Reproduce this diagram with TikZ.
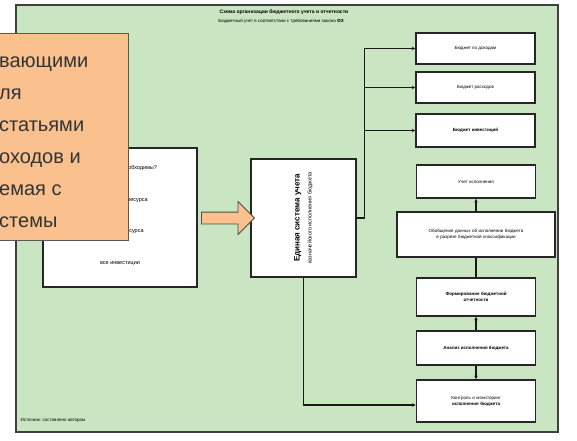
\documentclass[tikz,border=0pt]{standalone}
\usepackage{fontspec}
\setmainfont{Liberation Sans}
\usetikzlibrary{shapes.arrows,arrows.meta}

\definecolor{fieldgreen}{RGB}{201,229,193}
\definecolor{peach}{RGB}{250,193,143}

\begin{document}
\begin{tikzpicture}[x=1pt,y=-1pt,
		box/.style={draw=black!85, line width=1.6pt, fill=white, inner sep=1pt, align=center,
			font=\fontsize{4.5}{6}\selectfont, minimum width=119pt},
		tiny/.style={font=\fontsize{4.5}{6}\selectfont},
		link/.style={draw=black!90, line width=1.3pt, -{Stealth[length=3.5pt,width=3.5pt]}},
		plain/.style={draw=black!90, line width=1.3pt}]
	\clip (0,0) rectangle (577,440);
	\fill[white] (0,0) rectangle (577,440);
	\filldraw[fill=fieldgreen, draw=black!75, line width=1.5pt] (16,5) rectangle (558,432);
	\node[tiny, font=\bfseries\fontsize{5}{6}\selectfont] (title) at (284,12) {Схема организации бюджетного учета и отчетности};
	\node[tiny] (subtitle) at (281,21) {Бюджетный учет в соответствии с требованиями закона \textbf{ФЗ}};
	\node[tiny, anchor=west] (source) at (17,420) {Источник: составлено автором};
	% budget boxes
	\node[box, minimum height=31pt] (budA) at (475.5,48.5) {Бюджет по доходам};
	\node[box, minimum height=31pt] (budB) at (475.5,87.5) {Бюджет расходов};
	\node[box, minimum height=33pt] (budC) at (475.5,130.5) {\bfseries Бюджет инвестиций};
	\node[box, minimum height=33pt] (budD) at (476,181.5) {Учет исполнения};
	\node[box, minimum width=158pt, minimum height=45pt, text width=150pt, line width=2pt] (budE) at (476,234.5)
		{Обобщение данных об исполнении бюджета в разрезе бюджетной классификации};
	\node[box, minimum height=38pt, text width=105pt] (budF) at (476,297) {\bfseries Формирование бюджетной\\ \bfseries отчетности};
	\node[box, minimum height=34pt] (budG) at (476,348) {\bfseries Анализ исполнения бюджета};
	\node[box, minimum height=42pt, text width=105pt] (budH) at (476,401) {Контроль и мониторинг\\ \bfseries исполнения бюджета};
	% central ledger
	\node[box, minimum width=105pt, minimum height=118pt] (ledger) at (303.5,218) {};
	\node[rotate=90, align=center, inner sep=0pt] (ledgertext) at (ledger.center)
		{{\bfseries\fontsize{8}{11}\selectfont Единая система учета}\\
		{\fontsize{5.5}{7}\selectfont казначейского исполнения бюджета}};
	% left box
	\node[box, minimum width=154pt, minimum height=139pt] (needs) at (120,217.5) {};
	\foreach \txt [count=\k] in {{Какие ресурсы необходимы?}, {финансового ресурса}, {трудового ресурса}, {все инвестиции}}
		\node[font=\fontsize{5.5}{7}\selectfont] (need\k) at (120,136+32*\k) {\txt};
	\node[single arrow, draw=black!70, fill=peach, line width=0.8pt, inner xsep=0pt, inner ysep=5.5pt,
		minimum height=53pt, single arrow head extend=10.5pt] (push) at (225,218) {};
	% note over the left box
	\filldraw[fill=peach, draw=black!65, line width=1pt] (-12,33) rectangle (128,240);
	\node[anchor=west, align=left, inner sep=0pt, font=\fontsize{20}{32}\selectfont, text=black!80] (note) at (-1,142)
		{вающими\\ ля\\ статьями\\ оходов и\\ емая с\\ стемы};
	% connectors
	\coordinate (fork) at ([xshift=8pt]ledger.east);
	\draw[plain] (ledger.east) -- (fork);
	\foreach \b in {budA,budB,budC}
		\draw[link] (fork) |- (\b.west);
	\draw[link] (ledger.south) |- ([yshift=-4pt]budH.west);
	\draw[link] (budE) -- (budD);
	\draw[plain] (budE) -- (budF);
	\draw[link] (budG) -- (budF);
	\draw[link] (budG) -- (budH);
\end{tikzpicture}
\end{document}
